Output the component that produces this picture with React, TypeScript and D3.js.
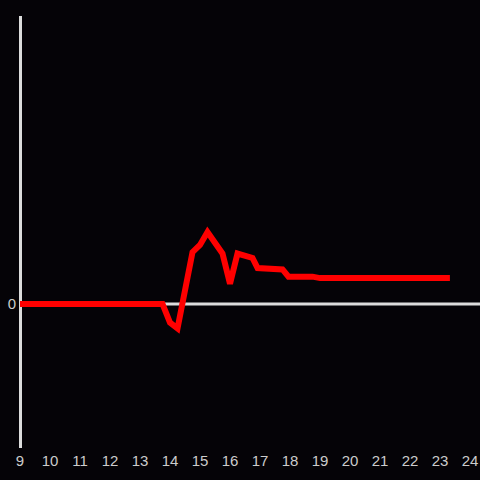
import React from "react";
import * as d3 from "d3";

const hours: number[] = [9, 13.75, 14.0, 14.25, 14.75, 15.0, 15.25, 15.75, 16.0, 16.25, 16.75, 16.92, 17.75, 17.95, 18.75, 19.0, 23.33];
const values: number[] = [0, 0, -0.13, -0.17, 0.36, 0.41, 0.5, 0.35, 0.14, 0.35, 0.32, 0.25, 0.24, 0.19, 0.19, 0.18, 0.18];
const xTicks: number[] = [9, 10, 11, 12, 13, 14, 15, 16, 17, 18, 19, 20, 21, 22, 23, 24];
const yTicks: number[] = [0];

export default function App() {
  const W = 480, H = 480;
  const x = d3.scaleLinear().domain([9, 24]).range([20, 470]);
  const y = d3.scaleLinear().domain([-1, 2]).range([448, 16]);
  const data = hours.map((h, i) => [h, values[i]] as [number, number]);
  const line = d3.line<[number, number]>().x(d => x(d[0])).y(d => y(d[1]));
  const font = "'Liberation Sans', Arial, sans-serif";
  return (
    <svg width={W} height={H} style={{ position: "absolute", left: 0, top: 0, background: "#050307" }}>
      <rect x={0} y={0} width={W} height={H} fill="#050307" />
      <line x1={20.5} x2={20.5} y1={16} y2={448} stroke="#dcdcdc" strokeWidth={3} />
      <line x1={20} x2={480} y1={y(0)} y2={y(0)} stroke="#dcdcdc" strokeWidth={3} />
      {yTicks.map(t => (
        <text key={t} x={16} y={y(t)} dy="0.35em" textAnchor="end" fill="#cccccc" fontSize={15} fontFamily={font}>{t}</text>
      ))}
      {xTicks.map(t => (
        <text key={t} x={x(t)} y={461} dy="0.35em" textAnchor="middle" fill="#cccccc" fontSize={15} fontFamily={font}>{t}</text>
      ))}
      <path d={line(data) || ""} fill="none" stroke="#ff0000" strokeWidth={6} strokeLinejoin="miter" />
    </svg>
  );
}
